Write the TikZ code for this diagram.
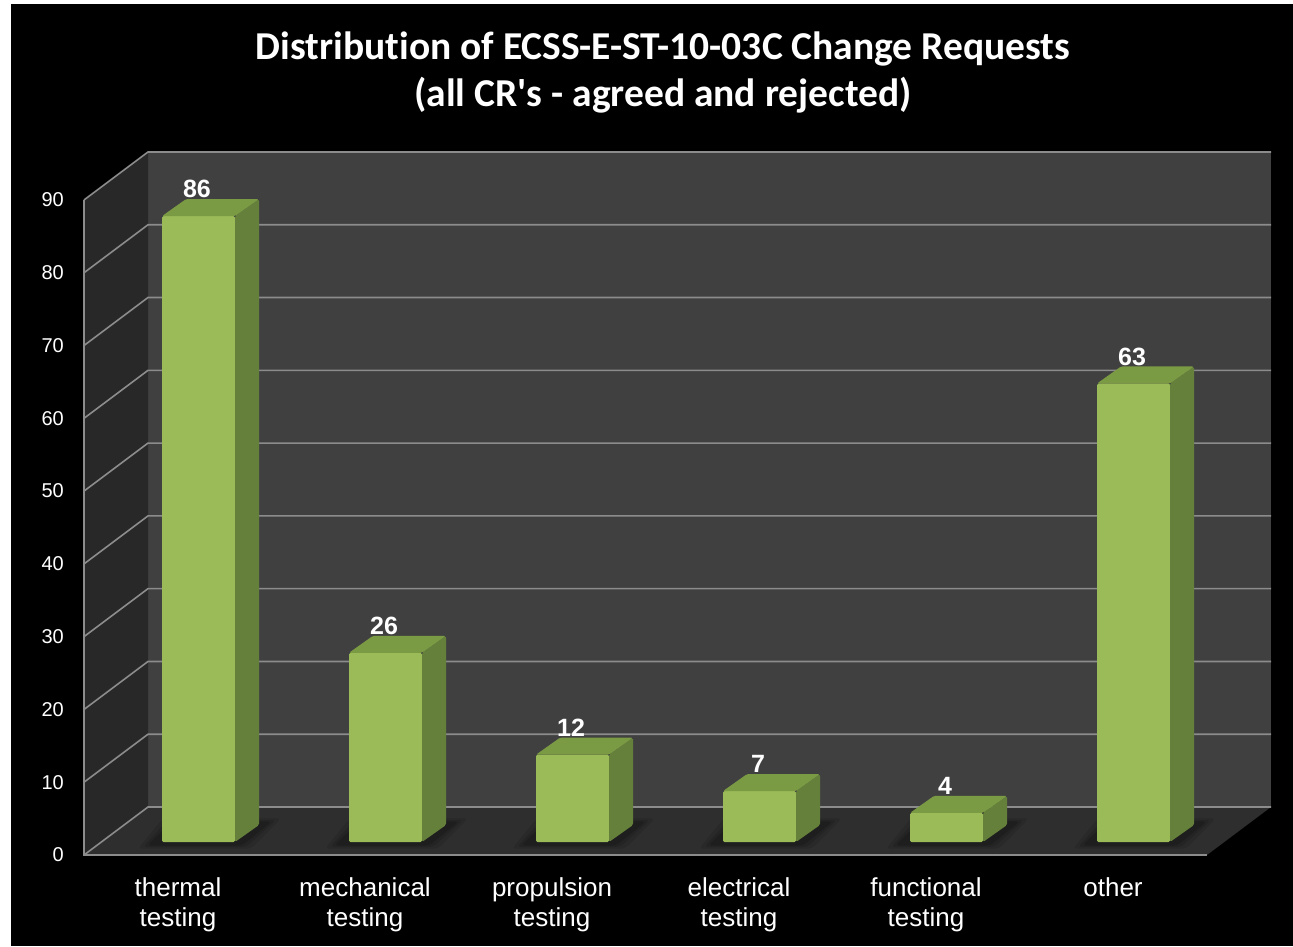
\documentclass[tikz,border=0pt]{standalone}
\usepackage{fontspec}
\setmainfont{Liberation Sans}
\newfontfamily\titlefont[Ligatures=NoCommon]{Carlito}
\definecolor{wallback}{HTML}{404040}
\definecolor{wallside}{HTML}{282828}
\definecolor{floorc}{HTML}{2E2E2E}
\definecolor{gridc}{HTML}{8C8C8C}
\definecolor{barfront}{HTML}{9BBB59}
\definecolor{barside}{HTML}{64803A}
\definecolor{bartop}{HTML}{7B9A44}
\tikzset{
  gridline/.style={draw=gridc, line width=1.6pt},
  ylab/.style={text=white, anchor=east, inner sep=0pt, font=\fontsize{20}{24}\selectfont},
  vallab/.style={text=white, inner sep=0pt, font=\bfseries\fontsize{25}{30}\selectfont},
  catlab/.style={text=white, align=center, inner sep=0pt, font=\fontsize{26}{30}\selectfont},
  barfacefront/.style={fill=barfront},
  barfaceside/.style={fill=barside},
  barfacetop/.style={fill=bartop},
}
\begin{document}
\begin{tikzpicture}[x=1pt,y=-1pt]
\useasboundingbox (0,0) rectangle (1293,946);
\fill[white] (0,0) rectangle (1293,946);
\fill[black] (11,4) rectangle (1293,946);

% title
\node[text=white, align=center, inner sep=0pt,
      font=\titlefont\bfseries\fontsize{39.5}{47}\selectfont] (title) at (663,72)
  {Distribution of ECSS-E-ST-10-03C Change Requests\\(all CR's - agreed and rejected)};

% walls and floor
\fill[wallback] (148,152) rectangle (1271,807);
\fill[wallside] (84,200) -- (148,152) -- (148,807) -- (84,855) -- cycle;
\fill[floorc] (84,855) -- (148,807) -- (1271,807) -- (1207,855) -- cycle;

% gridlines and axis values
\foreach \k in {0,...,9} {
  \pgfmathsetmacro\yb{807-72.78*\k}
  \pgfmathtruncatemacro\v{10*\k}
  \draw[gridline] (84,\yb+48) -- (148,\yb) -- (1271,\yb);
  \node[ylab] (y\k) at (64,\yb+48) {\v};
}
\draw[gridline] (84,200) -- (84,855) -- (1207,855);

% bars: left edge / value / category
\foreach \x/\val/\ta/\tb [count=\i] in {
    162/86/thermal/testing,
    349/26/mechanical/testing,
    536/12/propulsion/testing,
    723/7/electrical/testing,
    910/4/functional/testing,
    1097/63/other/{\strut}} {
  \pgfmathsetmacro\yt{842-7.278*\val}
  % soft floor shadow
  \foreach \s/\o in {14/0.10,9/0.12,5/0.14} {
    \fill[black, opacity=\o, rounded corners=4pt]
      (\x-10-\s,844+\s/3) -- (\x+75+\s,844+\s/3) -- (\x+105+\s,823-\s/3) -- (\x+15-\s,823-\s/3) -- cycle;
  }
  \fill[barfacefront, rounded corners=1.5pt] (\x,\yt) rectangle (\x+73,842);
  \fill[barfaceside, rounded corners=1.5pt] (\x+73,842) -- (\x+97,825) -- (\x+97,\yt-17) -- (\x+73,\yt) -- cycle;
  \fill[barfacetop, rounded corners=1.5pt] (\x,\yt) -- (\x+24,\yt-17) -- (\x+97,\yt-17) -- (\x+73,\yt) -- cycle;
  \node[vallab] (v\i) at (\x+35,\yt-27) {\val};
  \node[catlab, anchor=north] (c\i) at (\x+16,877) {\ta\\\tb};
}
\end{tikzpicture}
\end{document}
